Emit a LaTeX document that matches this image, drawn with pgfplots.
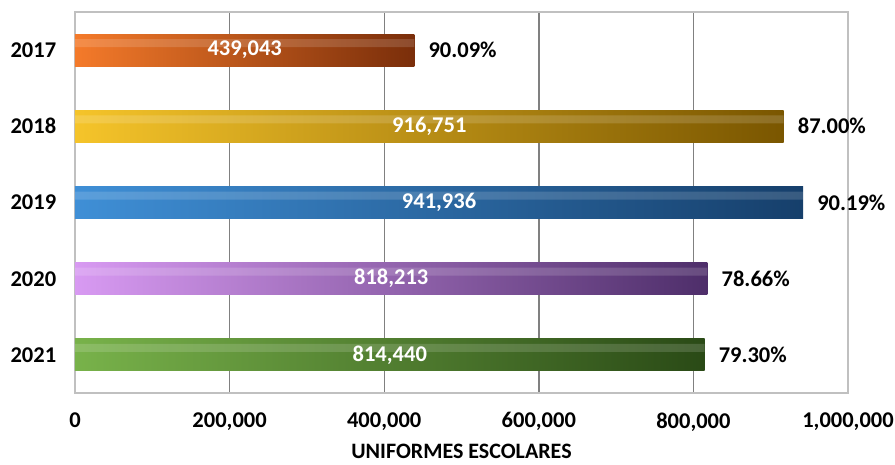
\documentclass[border=0pt]{standalone}
\usepackage{pgfplots}
\pgfplotsset{compat=1.18}
\usepackage{fontspec}
\setmainfont{Carlito}

\definecolor{c17a}{HTML}{F47A2A}\definecolor{c17b}{HTML}{7A2E0A}
\definecolor{c18a}{HTML}{F5C42A}\definecolor{c18b}{HTML}{7A5600}
\definecolor{c19a}{HTML}{3F8FD6}\definecolor{c19b}{HTML}{163F6B}
\definecolor{c20a}{HTML}{D89AF2}\definecolor{c20b}{HTML}{4E2E6A}
\definecolor{c21a}{HTML}{78B24A}\definecolor{c21b}{HTML}{2A4A16}
\definecolor{gridc}{HTML}{808080}
\definecolor{framec}{HTML}{C0C0C0}

\begin{document}
\begin{tikzpicture}
\useasboundingbox (-75pt,-72pt) rectangle (820pt,393pt);
\begin{axis}[
  scale only axis, width=773pt, height=381pt,
  at={(0,0)}, anchor=south west,
  xmin=0, xmax=1000000, ymin=0.5, ymax=5.5, y dir=reverse,
  xtick={0,200000,400000,600000,800000,1000000},
  xticklabels={0,{200,000},{400,000},{600,000},{800,000},{1,000,000}},
  scaled x ticks=false,
  ytick={1,2,3,4,5}, yticklabels={2017,2018,2019,2020,2021},
  tick style={draw=none},
  xmajorgrids, grid style={gridc, line width=1.4pt},
  axis line style={framec, line width=1.2pt},
  tick label style={font=\fontsize{22.5}{26}\selectfont\bfseries},
  x tick label style={yshift=-16pt},
  y tick label style={xshift=-11pt},
  xlabel={UNIFORMES ESCOLARES},
  xlabel style={font=\fontsize{22}{26}\selectfont\bfseries, at={(axis description cs:0.5,0)}, anchor=north, inner sep=0pt, yshift=-51pt},
  xbar, bar width=32pt,
  point meta=explicit symbolic,
  every node near coord/.append style={font=\fontsize{22.5}{26}\selectfont\bfseries, anchor=west, inner sep=0pt, xshift=14pt, black},
  shine/.style={xbar, bar shift=7pt, bar width=8pt, draw=none, forget plot, fill=white, fill opacity=0.15},
]
\addplot[xbar, bar shift=0pt, draw=none, left color=c17a, right color=c17b, nodes near coords] coordinates {(439043,1) [90.09\%]};
\addplot[xbar, bar shift=0pt, draw=none, left color=c18a, right color=c18b, nodes near coords] coordinates {(916751,2) [87.00\%]};
\addplot[xbar, bar shift=0pt, draw=none, left color=c19a, right color=c19b, nodes near coords] coordinates {(941936,3) [90.19\%]};
\addplot[xbar, bar shift=0pt, draw=none, left color=c20a, right color=c20b, nodes near coords] coordinates {(818213,4) [78.66\%]};
\addplot[xbar, bar shift=0pt, draw=none, left color=c21a, right color=c21b, nodes near coords] coordinates {(814440,5) [79.30\%]};
% light band along the upper part of the same bars
\addplot[shine] coordinates {(439043,1) (916751,2) (941936,3) (818213,4) (814440,5)};
\begin{scope}[every node/.style={font=\fontsize{22.5}{26}\selectfont\bfseries, text=white}]
\node at (axis cs:219521.5,1) {439,043};
\node at (axis cs:458375.5,2) {916,751};
\node at (axis cs:470968,3) {941,936};
\node at (axis cs:409106.5,4) {818,213};
\node at (axis cs:407220,5) {814,440};
\end{scope}
\end{axis}
\end{tikzpicture}
\end{document}
